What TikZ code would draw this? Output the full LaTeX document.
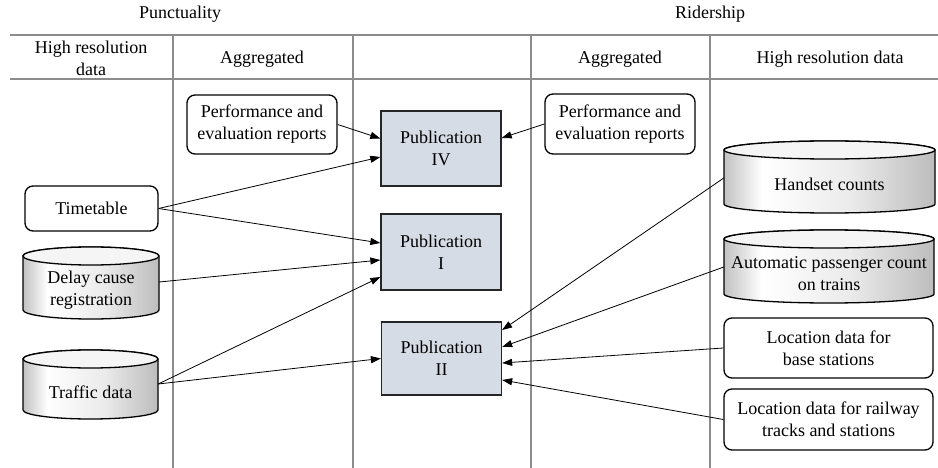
\documentclass[tikz,border=0pt]{standalone}
\usepackage{fontspec}
\setmainfont{Liberation Serif}
\usetikzlibrary{arrows.meta,backgrounds}
\definecolor{pubfill}{HTML}{D6DCE5}
\definecolor{gridline}{HTML}{8C8C8C}
\pgfdeclarehorizontalshading{cylshade}{100bp}{color(0bp)=(black!24); color(25bp)=(black!24); color(34bp)=(white); color(55bp)=(black!8); color(75bp)=(black!26); color(100bp)=(black!26)}
% database drum: left x, right x, top y, bottom y
\newcommand\drum[4]{%
  \pgfmathsetmacro\drumrx{(#2-#1)/2}%
  \pgfmathsetmacro\drumcx{(#1+#2)/2}%
  \shadedraw[shading=cylshade, line width=1.3pt]
    (#1,#3+9) -- (#1,#4-9)
    arc[start angle=180, end angle=0, x radius=\drumrx, y radius=9]
    -- (#2,#3+9)
    arc[start angle=0, end angle=-180, x radius=\drumrx, y radius=9] -- cycle;
  \draw[line width=1.3pt, fill=black!4] (\drumcx,#3+9) ellipse[x radius=\drumrx, y radius=9];
}
\begin{document}
\begin{tikzpicture}[x=1pt, y=-1pt, font=\fontsize{18}{22}\selectfont,
  grid/.style={draw=gridline, line width=1.3pt},
  head/.style={align=center, inner sep=0pt},
  roundbox/.style={draw, line width=1.3pt, rounded corners=8pt, align=center, inner sep=0pt},
  pub/.style={draw=black!85, line width=1.3pt, fill=pubfill, align=center, inner sep=0pt,
    minimum width=120pt},
  drumtext/.style={align=center, inner sep=0pt},
  link/.style={-{Triangle[length=10pt, width=7pt]}, line width=0.8pt}]
\useasboundingbox (0,0) rectangle (938,468);

% table frame
\draw[grid] (10,35) -- (938,35);
\draw[grid] (10,79) -- (938,79);
\foreach \x in {173,353,531,710} \draw[grid] (\x,35) -- (\x,468);

% headings
\node[head] (punct) at (180,14) {Punctuality};
\node[head] (rider) at (710,14) {Ridership};
\node[head] (hrL) at (91,58) {High resolution\\data};
\node[head] (agL) at (262,59) {Aggregated};
\node[head] (agR) at (620,59) {Aggregated};
\node[head] (hrR) at (830,59) {High resolution data};

% database drums
\drum{724}{935}{141}{213}
\drum{724}{934}{230}{303}
\drum{23}{159}{247}{319}
\drum{23}{158}{350}{419}

% sources and publications
\node[roundbox, minimum width=150pt, minimum height=59pt] (perfL) at (262,124.5) {Performance and\\evaluation reports};
\node[roundbox, minimum width=150pt, minimum height=60pt] (perfR) at (620,124) {Performance and\\evaluation reports};
\node[roundbox, minimum width=133pt, minimum height=45pt] (timetable) at (91.5,208.5) {Timetable};
\node[roundbox, minimum width=209pt, minimum height=60pt] (locbase) at (828.5,348) {Location data for\\base stations};
\node[roundbox, minimum width=209pt, minimum height=61pt] (locrail) at (828.5,419.5) {Location data for railway\\tracks and stations};

\node[pub, minimum height=75pt] (pubIV) at (441,148.5) {Publication\\IV};
\node[pub, minimum height=76pt] (pubI) at (441,252) {Publication\\I};
\node[pub, minimum height=73pt] (pubII) at (441.5,358.5) {Publication\\II};

\node[drumtext, minimum width=211pt] (handset) at (829.5,184) {Handset counts};
\node[drumtext, minimum width=210pt] (apc) at (829,274) {Automatic passenger count\\on trains};
\node[drumtext, minimum width=136pt] (delay) at (91,290) {Delay cause\\registration};
\node[drumtext, minimum width=135pt] (traffic) at (90.5,392) {Traffic data};

% data flows
\draw[link] (perfL.east) -- ([yshift=10pt]pubIV.west);
\draw[link] (timetable.east) -- ([yshift=-8.5pt]pubIV.west);
\draw[link] (timetable.east) -- ([yshift=9pt]pubI.west);
\draw[link] ([yshift=8pt]delay.east) -- ([yshift=-8pt]pubI.west);
\draw[link] ([yshift=8pt]traffic.east) -- ([yshift=-25pt]pubI.west);
\draw[link] ([yshift=8pt]traffic.east) -- (pubII.west);
\draw[link] (perfR.west) -- ([yshift=10.5pt]pubIV.east);
\draw[link] ([yshift=6pt]handset.west) -- ([yshift=28.5pt]pubII.east);
\draw[link] ([yshift=7pt]apc.west) -- ([yshift=11.5pt]pubII.east);
\draw[link] (locbase.west) -- ([yshift=-4.5pt]pubII.east);
\draw[link] (locrail.west) -- ([yshift=-21.5pt]pubII.east);
\end{tikzpicture}
\end{document}
